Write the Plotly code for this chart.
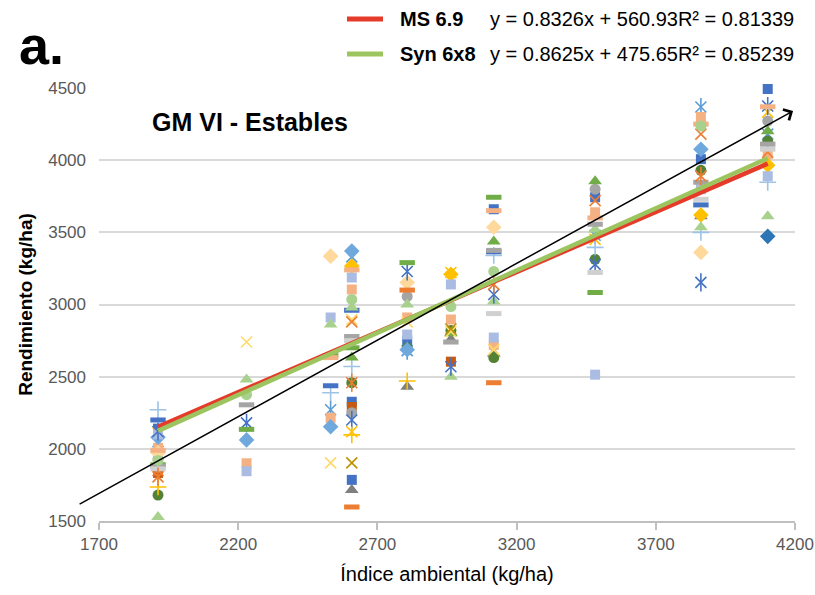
import plotly.graph_objects as go

# ---------------- data ----------------
ENV = [1912, 2230, 2532, 2608, 2807, 2964, 3118, 3482, 3862, 4102]  # Índice ambiental

G01 = [2140, None, None, 2326, 2750, None, 3660, 3743, 4007, 4493]
G02 = [1833, None, None, 2290, None, 2604, None, None, None, None]
G03 = [None, None, None, 1715, 2430, 2757, 2660, None, 3611, None]
G04 = [2110, None, None, 2118, None, 3222, None, 3451, None, 4333]
G05 = [2050, None, 2271, 3330, 2680, None, None, 3480, 4368, 4180]
G06 = [1680, None, None, 2458, 2700, 2820, 2632, 3313, 3930, 4132]
G07 = [2271, None, 2389, 2570, None, None, 3340, 3396, 3500, 3847]
G08 = [2200, None, 2437, 2960, None, None, 3365, None, 3690, None]
G09 = [2007, 1900, 2215, 3104, 2910, 2896, 2720, 3639, 4299, 4040]
G10 = [1930, None, None, 2250, 3056, None, None, 3799, None, 4271]
G11 = [None, None, None, 3266, None, 3210, None, None, 3620, 3965]
G12 = [2080, 2062, 2153, 3370, 2687, None, None, None, 4076, None]
G13 = [None, None, None, 2632, None, 2800, 3437, 3854, None, 4200]
G14 = [2100, 1845, 2910, 3187, 2792, 3139, 2771, 2514, 3799, 3889]
G15 = [1528, 2480, 2861, 2979, 3000, 2500, 3021, 3520, 3535, 3611]
G16 = [1972, None, 3335, None, 3153, None, 3535, None, 3361, None]
G17 = [None, 2740, 1903, 2896, 2880, 2812, 2687, None, None, None]
G18 = [2120, 2180, None, 2200, 3229, 2569, 3069, 3278, 3153, 4375]
G19 = [1850, None, None, 2880, None, None, None, 3720, 4180, 4055]
G20 = [1890, 2135, 2646, 2700, 3290, None, 3743, 3083, None, None]
G21 = [1880, 2305, None, 2778, None, 2740, 3375, 3556, 3847, 4111]
G22 = [1861, None, None, 2750, None, None, 2937, 3222, 3729, 4076]
G23 = [1990, None, 2632, 3240, None, None, 3650, 3600, 4250, 4370]
G24 = [None, None, None, 1597, 3100, None, 2458, None, None, None]
G25 = [1920, 2375, None, 3035, None, 2986, 3229, None, 4236, None]
G26 = [1736, None, None, 2097, 2470, None, None, None, None, None]
G27 = [1806, None, None, 2458, None, None, 3139, None, 3889, None]
G28 = [None, None, None, 1903, None, 2830, None, None, None, None]
G29 = [None, None, None, None, None, None, None, None, None, 3472]
G30 = [None, None, None, 1785, None, None, None, None, None, None]

# regression equations (from legend)
REG_NAMES = ["MS 6.9", "Syn 6x8"]
REG_SLOPE = [0.8326, 0.8625]
REG_INTERCEPT = [560.93, 475.65]
REG_R2 = ["0.81339", "0.85239"]

# reference arrow (tail -> head)
ARROW_X = [1625, 4193]
ARROW_Y = [1611, 4340]

X_TICKS = [1700, 2200, 2700, 3200, 3700, 4200]
Y_TICKS = [1500, 2000, 2500, 3000, 3500, 4000, 4500]

# ---------------- styles ----------------
SERIES = [
    (G01, "square", "#4472C4"), (G02, "square", "#C55A11"),
    (G03, "triangle", "#7F7F7F"), (G04, "x", "#FFC000"),
    (G05, "star", "#5B9BD5"), (G06, "circle", "#548235"),
    (G07, "plus", "#9DC3E6"), (G08, "dash", "#4472C4"),
    (G09, "square", "#F4B183"), (G10, "circle", "#A5A5A5"),
    (G11, "diamond", "#FFC000"), (G12, "diamond", "#6FA8DC"),
    (G13, "triangle", "#70AD47"), (G14, "square", "#ABBCE3"),
    (G15, "triangle", "#A9D18E"), (G16, "diamond", "#FFD89B"),
    (G17, "x", "#FFD966"), (G18, "star", "#4472C4"),
    (G19, "x", "#ED7D31"), (G20, "dash", "#70AD47"),
    (G21, "dash", "#A5A5A5"), (G22, "dash", "#D0D0D0"),
    (G23, "dash", "#F4B183"), (G24, "dash", "#ED7D31"),
    (G25, "circle", "#A9D18E"), (G26, "plus", "#FFC000"),
    (G27, "star", "#ED7D31"), (G28, "x", "#BF9000"),
    (G29, "diamond", "#2E75B6"), (G30, "square", "#4472C4"),
]

FONT = "Liberation Sans, Arial, sans-serif"

fig = go.Figure()


def add_marks(ys, sym, col):
    if sym == "square":
        mk = [dict(symbol="square", size=10, color=col, line=dict(width=0))]
    elif sym == "diamond":
        mk = [dict(symbol="diamond", size=12, color=col, line=dict(width=0))]
    elif sym == "triangle":
        mk = [dict(symbol="triangle-up", size=12, color=col, line=dict(width=0))]
    elif sym == "circle":
        mk = [dict(symbol="circle", size=11, color=col, line=dict(width=0))]
    elif sym == "x":
        mk = [dict(symbol="x-thin-open", size=11, color=col, line=dict(width=1.6, color=col))]
    elif sym == "plus":
        mk = [dict(symbol="cross-thin-open", size=12, color=col, line=dict(width=1.6, color=col))]
    elif sym == "dash":
        mk = [dict(symbol="line-ew-open", size=11, color=col, line=dict(width=5, color=col))]
    else:  # star: x with vertical bar
        mk = [dict(symbol="x-thin-open", size=11, color=col, line=dict(width=1.6, color=col)),
              dict(symbol="line-ns-open", size=13, color=col, line=dict(width=1.6, color=col))]
    for m in mk:
        fig.add_trace(go.Scatter(x=ENV, y=ys, mode="markers", marker=m,
                                 showlegend=False, cliponaxis=False, hoverinfo="x+y"))


for ys, sym, col in SERIES:
    add_marks(ys, sym, col)

# regression lines
REG_COLORS = ["#E53B2A", "#9DC55F"]
xmin, xmax = min(ENV), max(ENV)
for name, a, b, c in zip(REG_NAMES, REG_SLOPE, REG_INTERCEPT, REG_COLORS):
    fig.add_trace(go.Scatter(x=[xmin, xmax], y=[a * xmin + b, a * xmax + b],
                             mode="lines", line=dict(color=c, width=4.5),
                             name=name, showlegend=False))

# ---------------- layout ----------------
L, R, T, B = 99, 20, 88, 74
W, H = 815, 595
PW, PH = W - L - R, H - T - B


def px(xp):
    return (xp - L) / PW


def py(yp):
    return (H - B - yp) / PH


annotations = [
    dict(x=ARROW_X[1], y=ARROW_Y[1], ax=ARROW_X[0], ay=ARROW_Y[0],
         xref="x", yref="y", axref="x", ayref="y", text="", showarrow=True,
         arrowhead=4, arrowsize=1.6, arrowwidth=1.5, arrowcolor="black"),
    dict(x=px(17), y=py(45), xref="paper", yref="paper", text="<b>a.</b>",
         showarrow=False, xanchor="left", yanchor="middle",
         font=dict(family=FONT, size=54, color="black")),
    dict(x=px(150), y=py(122), xref="paper", yref="paper",
         text="<b>GM VI - Estables</b>", showarrow=False,
         xanchor="left", yanchor="middle",
         font=dict(family=FONT, size=25, color="black")),
]
shapes = []
LEG_Y = [19, 54]
for i, (name, a, b, r2, c) in enumerate(zip(REG_NAMES, REG_SLOPE, REG_INTERCEPT, REG_R2, REG_COLORS)):
    yy = py(LEG_Y[i])
    shapes.append(dict(type="line", xref="paper", yref="paper",
                       x0=px(347), x1=px(383), y0=yy, y1=yy,
                       line=dict(color=c, width=5)))
    annotations.append(dict(x=px(398), y=yy, xref="paper", yref="paper",
                            text=f"<b>{name}</b>", showarrow=False,
                            xanchor="left", yanchor="middle",
                            font=dict(family=FONT, size=20, color="black")))
    annotations.append(dict(x=px(488), y=yy, xref="paper", yref="paper",
                            text=f"y = {a}x + {b}R² = {r2}", showarrow=False,
                            xanchor="left", yanchor="middle",
                            font=dict(family=FONT, size=20, color="black")))

fig.update_layout(
    width=W, height=H,
    margin=dict(l=L, r=R, t=T, b=B, autoexpand=False),
    paper_bgcolor="white", plot_bgcolor="white",
    showlegend=False,
    font=dict(family=FONT),
    xaxis=dict(range=[1700, 4200], tickvals=X_TICKS, showgrid=False, zeroline=False,
               automargin=False,
               showline=True, linecolor="#BFBFBF", linewidth=1.5,
               ticks="outside", ticklen=7, tickcolor="#BFBFBF", tickwidth=1.5,
               tickfont=dict(family=FONT, size=17, color="#595959"),
               title=dict(text="Índice ambiental (kg/ha)", standoff=14,
                          font=dict(family=FONT, size=20, color="black"))),
    yaxis=dict(range=[1500, 4500], tickvals=Y_TICKS, showgrid=True,
               automargin=False,
               gridcolor="#D9D9D9", gridwidth=1.5, zeroline=False, showline=False,
               ticks="", ticklabelstandoff=12,
               tickfont=dict(family=FONT, size=17, color="#595959"),
               title=dict(text="<b>Rendimiento (kg/ha)</b>", standoff=10,
                          font=dict(family=FONT, size=19, color="black"))),
    annotations=annotations,
    shapes=shapes,
)

fig.write_html("out.html")
